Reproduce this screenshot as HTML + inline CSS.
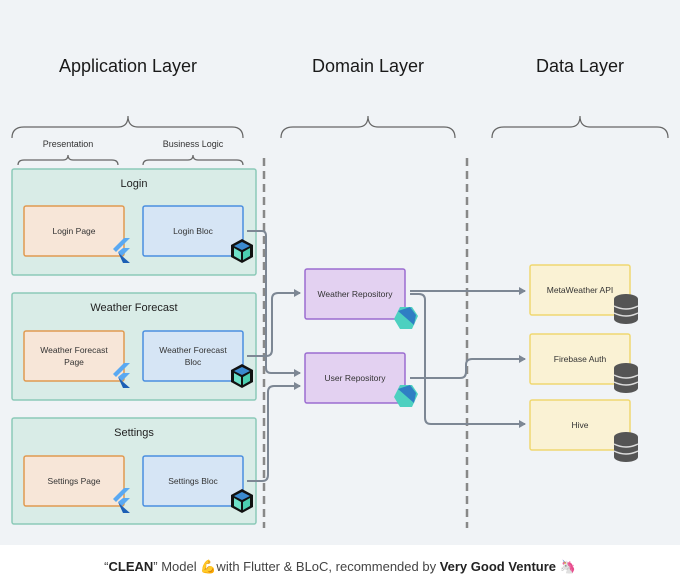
<!DOCTYPE html>
<html><head><meta charset="utf-8"><style>
body{margin:0;width:680px;height:575px;background:#fff;font-family:"Liberation Sans",sans-serif;overflow:hidden}
</style></head><body>
<svg width="680" height="575" xmlns="http://www.w3.org/2000/svg" font-family="Liberation Sans, sans-serif">
<defs>
<marker id="a" markerWidth="8" markerHeight="8" refX="6" refY="4" orient="auto" markerUnits="userSpaceOnUse"><path d="M0,0 L7,4 L0,8z" fill="#7d8794"/></marker>
<g id="db"><ellipse cx="0" cy="0" rx="12" ry="5" fill="#555"/><rect x="-12" y="0" width="24" height="20" fill="#555"/><ellipse cx="0" cy="20" rx="12" ry="5" fill="#555"/><path d="M-12,7 Q0,13 12,7 M-12,14 Q0,20 12,14" stroke="#ddd" stroke-width="1.5" fill="none"/></g>
<g id="cube"><polygon points="0,-12 11,-6 11,6 0,12 -11,6 -11,-6" fill="#111"/><polygon points="0,-9 8,-5 0,-1 -8,-5" fill="#3b8bd0"/><polygon points="-8,-3 -1,1 -1,9 -8,5" fill="#6fe0c8"/><polygon points="8,-3 1,1 1,9 8,5" fill="#4ccfb0"/></g>
<g id="fl"><polygon points="4,-12 10,-12 -4,2 -7,-1" fill="#5aa9f2"/><polygon points="3,-2 10,-2 2,6 -2,2" fill="#5aa9f2"/><polygon points="-2,2 2,6 10,13 3,13" fill="#1d5fb5"/></g>
<g id="dart"><polygon points="-6,-12 6,-12 12,-3 6,10 -6,10 -12,0" fill="#4dd0c0"/><polygon points="-8,-8 8,6 10,-4 4,-12" fill="#2f7ec4"/></g>
</defs>
<rect width="680" height="545" fill="#f0f3f6"/>
<g font-size="18" fill="#1a1a1a" text-anchor="middle"><text x="128" y="72">Application Layer</text><text x="368" y="72">Domain Layer</text><text x="580" y="72">Data Layer</text></g>
<g stroke="#666" stroke-width="1.2" fill="none">
<path d="M12,138 Q12,127 24,127 L118,127 Q128,127 128,116 Q128,127 138,127 L232,127 Q243,127 243,138"/>
<path d="M281,138 Q281,127 293,127 L358,127 Q368,127 368,116 Q368,127 378,127 L444,127 Q455,127 455,138"/>
<path d="M492,138 Q492,127 504,127 L570,127 Q580,127 580,116 Q580,127 590,127 L657,127 Q668,127 668,138"/>
<path d="M18,165 Q18,160 24,160 L63,160 Q68,160 68,155 Q68,160 73,160 L112,160 Q118,160 118,165"/>
<path d="M143,165 Q143,160 149,160 L188,160 Q193,160 193,155 Q193,160 198,160 L237,160 Q243,160 243,165"/>
</g>
<g font-size="9" fill="#333" text-anchor="middle"><text x="68" y="147">Presentation</text><text x="193" y="147">Business Logic</text></g>
<g stroke="#888" stroke-width="2.5" stroke-dasharray="8,5"><line x1="264" y1="158" x2="264" y2="528"/><line x1="467" y1="158" x2="467" y2="528"/></g>
<g stroke="#8ccab8" stroke-width="1.5" fill="#d9ece7">
<rect x="12" y="169" width="244" height="106" rx="2"/><rect x="12" y="293" width="244" height="107" rx="2"/><rect x="12" y="418" width="244" height="106" rx="2"/></g>
<g font-size="11" fill="#222" text-anchor="middle"><text x="134" y="187">Login</text><text x="134" y="311">Weather Forecast</text><text x="134" y="436">Settings</text></g>
<g stroke="#e09a50" stroke-width="1.5" fill="#f7e6d8"><rect x="24" y="206" width="100" height="50" rx="2"/><rect x="24" y="331" width="100" height="50" rx="2"/><rect x="24" y="456" width="100" height="50" rx="2"/></g>
<g stroke="#4a8fe0" stroke-width="1.5" fill="#d6e5f5"><rect x="143" y="206" width="100" height="50" rx="2"/><rect x="143" y="331" width="100" height="50" rx="2"/><rect x="143" y="456" width="100" height="50" rx="2"/></g>
<g font-size="8.5" fill="#333" text-anchor="middle">
<text x="74" y="234">Login Page</text><text x="193" y="234">Login Bloc</text>
<text x="74" y="353">Weather Forecast</text><text x="74" y="365">Page</text>
<text x="193" y="353">Weather Forecast</text><text x="193" y="365">Bloc</text>
<text x="74" y="484">Settings Page</text><text x="193" y="484">Settings Bloc</text></g>
<use href="#fl" x="120" y="250"/><use href="#fl" x="120" y="375"/><use href="#fl" x="120" y="500"/>
<use href="#cube" x="242" y="251"/><use href="#cube" x="242" y="376"/><use href="#cube" x="242" y="501"/>
<g stroke="#7d8794" stroke-width="2" fill="none">
<path d="M247,231 L262,231 Q266,231 266,236 L266,368 Q266,373 271,373 L300,373" marker-end="url(#a)"/>
<path d="M247,356 L266,356 Q272,356 272,350 L272,299 Q272,293 278,293 L300,293" marker-end="url(#a)"/>
<path d="M247,481 L262,481 Q268,481 268,475 L268,392 Q268,386 274,386 L300,386" marker-end="url(#a)"/>
<path d="M410,291 L525,291" marker-end="url(#a)"/>
<path d="M410,294 L419,294 Q425,294 425,300 L425,418 Q425,424 431,424 L525,424" marker-end="url(#a)"/>
<path d="M410,378 L460,378 Q466,378 466,372 L466,365 Q466,359 472,359 L525,359" marker-end="url(#a)"/>
</g>
<g stroke="#9b6cd0" stroke-width="1.5" fill="#e3d1f1"><rect x="305" y="269" width="100" height="50" rx="2"/><rect x="305" y="353" width="100" height="50" rx="2"/></g>
<g font-size="8.5" fill="#333" text-anchor="middle"><text x="355" y="297">Weather Repository</text><text x="355" y="381">User Repository</text></g>
<use href="#dart" x="406" y="319"/><use href="#dart" x="406" y="397"/>
<g stroke="#f0d870" stroke-width="1.5" fill="#faf2d4"><rect x="530" y="265" width="100" height="50" rx="2"/><rect x="530" y="334" width="100" height="50" rx="2"/><rect x="530" y="400" width="100" height="50" rx="2"/></g>
<g font-size="8.5" fill="#333" text-anchor="middle"><text x="580" y="293">MetaWeather API</text><text x="580" y="362">Firebase Auth</text><text x="580" y="428">Hive</text></g>
<use href="#db" x="626" y="299"/><use href="#db" x="626" y="368"/><use href="#db" x="626" y="437"/>
<text x="340" y="571" font-size="13" fill="#444" text-anchor="middle">“<tspan font-weight="bold" fill="#222">CLEAN</tspan>” Model 💪with Flutter &amp; BLoC, recommended by <tspan font-weight="bold" fill="#222">Very Good Venture</tspan> 🦄</text>
</svg>
</body></html>
